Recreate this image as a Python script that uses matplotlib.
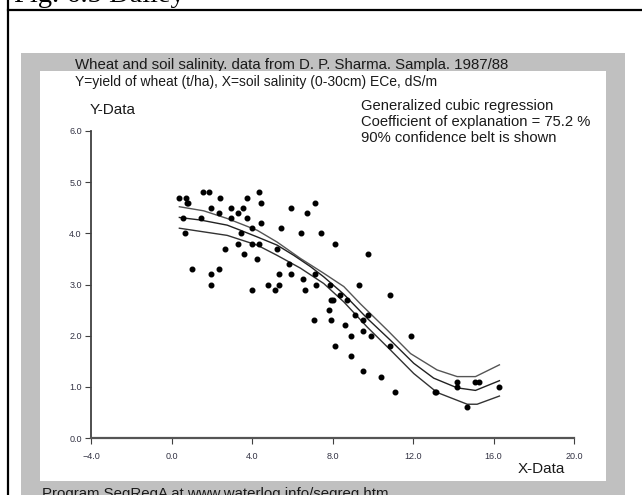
import matplotlib
matplotlib.use('Agg')
import matplotlib.pyplot as plt
from matplotlib.patches import Rectangle
from matplotlib.lines import Line2D

plt.rcParams['font.family'] = ['Liberation Sans', 'DejaVu Sans']

# soil salinity ECe (dS/m) and wheat yield (t/ha)
salinity = [0.34, 0.72, 0.74, 0.82, 0.54, 0.64, 1.02, 1.55, 1.84, 2.41,
            1.93, 1.47, 2.36, 2.65, 1.93, 2.33, 1.93, 2.93, 3.31, 3.52,
            3.71, 2.94, 3.71, 3.31, 3.42, 3.61, 3.96, 3.96, 3.96, 4.22,
            4.32, 4.42, 4.42, 4.32, 4.80, 5.15, 5.33, 5.33, 5.24, 5.42,
            5.90, 5.90, 5.81, 6.44, 6.72, 6.53, 6.62, 7.10, 7.44, 8.10,
            7.10, 7.19, 7.08, 7.84, 7.82, 7.92, 8.00, 7.92, 8.38, 8.73,
            8.63, 9.10, 9.29, 9.73, 9.73, 9.49, 9.48, 8.92, 9.91, 8.10,
            8.92, 9.49, 10.39, 10.87, 10.87, 11.12, 11.87, 13.09, 13.16, 14.18,
            14.18, 15.10, 15.27, 16.28, 14.70]
yields = [4.7, 4.7, 4.6, 4.6, 4.3, 4.0, 3.3, 4.8, 4.8, 4.7,
          4.5, 4.3, 4.4, 3.7, 3.2, 3.3, 3.0, 4.5, 4.4, 4.5,
          4.7, 4.3, 4.3, 3.8, 4.0, 3.6, 4.1, 3.8, 2.9, 3.5,
          4.8, 4.6, 4.2, 3.8, 3.0, 2.9, 3.2, 3.0, 3.7, 4.1,
          4.5, 3.2, 3.4, 4.0, 4.4, 3.1, 2.9, 4.6, 4.0, 3.8,
          3.2, 3.0, 2.3, 3.0, 2.5, 2.7, 2.7, 2.3, 2.8, 2.7,
          2.2, 2.4, 3.0, 3.6, 2.4, 2.3, 2.1, 2.0, 2.0, 1.8,
          1.6, 1.3, 1.2, 2.8, 1.8, 0.9, 2.0, 0.9, 0.9, 1.1,
          1.0, 1.1, 1.1, 1.0, 0.6]

# regression line and confidence belt
fit_x = [0.37, 1.42, 2.75, 3.41, 4.24, 5.23, 6.06, 6.89, 7.55, 8.55,
         9.71, 10.87, 12.03, 13.02, 14.19, 15.10, 16.29]
fit_y = [4.31, 4.26, 4.16, 4.06, 3.93, 3.77, 3.57, 3.35, 3.15, 2.81,
         2.34, 1.91, 1.46, 1.17, 0.98, 0.93, 1.12]
up_x = [0.37, 1.58, 2.75, 4.24, 5.23, 6.39, 7.55, 8.55, 9.38, 10.71,
        11.87, 13.19, 14.19, 15.10, 16.29]
up_y = [4.52, 4.44, 4.29, 4.06, 3.83, 3.51, 3.22, 2.96, 2.62, 2.11,
        1.65, 1.33, 1.20, 1.20, 1.43]
lo_x = [0.37, 2.75, 4.24, 5.23, 6.39, 7.55, 8.55, 9.71, 10.87, 12.03,
        13.19, 14.69, 15.18, 16.29]
lo_y = [4.10, 3.96, 3.77, 3.57, 3.32, 3.02, 2.66, 2.17, 1.72, 1.26,
        0.89, 0.66, 0.66, 0.82]

W, H = 642, 495
fig = plt.figure(figsize=(W / 100, H / 100), dpi=100)


def fx(px):
    return px / W


def fy(py):
    return 1 - py / H


ink = '#1a1a1a'

# page frame and the grey program window behind the chart
fig.add_artist(Line2D([fx(8), fx(8)], [fy(0), fy(H)], color='black', lw=1.6, zorder=3))
fig.add_artist(Line2D([fx(8), 1], [fy(9.5), fy(9.5)], color='black', lw=1.6, zorder=3))
fig.text(fx(14), fy(2), 'Fig. 6.5 Dailey', family='Liberation Serif', fontsize=20.5,
         va='baseline', ha='left', zorder=3)

fig.add_artist(Rectangle((fx(21), fy(H)), fx(625) - fx(21), fy(53) - fy(H),
                         transform=fig.transFigure, facecolor='#c0c0c0',
                         edgecolor='none', zorder=1))
fig.text(fx(75), fy(65), 'Wheat and soil salinity. data from D. P. Sharma. Sampla. 1987/88',
         fontsize=10.8, color=ink, va='center', zorder=1.5)
fig.add_artist(Rectangle((fx(40), fy(481)), fx(606) - fx(40), fy(71.5) - fy(481),
                         transform=fig.transFigure, facecolor='white',
                         edgecolor='none', zorder=2))
fig.text(fx(42), fy(494), 'Program SegRegA at www.waterlog.info/segreg.htm',
         fontsize=10.8, color=ink, va='center', zorder=1.5)

fig.text(fx(75), fy(82), 'Y=yield of wheat (t/ha), X=soil salinity (0-30cm) ECe, dS/m',
         fontsize=10.0, color=ink, va='center', zorder=3)
fig.text(fx(90), fy(110), 'Y-Data', fontsize=11, color=ink, va='center', zorder=3)
fig.text(fx(361), fy(98.5), 'Generalized cubic regression\n'
         'Coefficient of explanation = 75.2 %\n90% confidence belt is shown',
         fontsize=10.6, color=ink, va='top', linespacing=1.22, zorder=3)
fig.text(fx(518), fy(469), 'X-Data', fontsize=11, color=ink, va='center', zorder=3)

ax = fig.add_axes([fx(91.5), fy(438), fx(574) - fx(91.5), fy(131) - fy(438)])
ax.set_zorder(5)
ax.patch.set_alpha(0)

ax.plot(up_x, up_y, color='#555555', lw=1.0)
ax.plot(fit_x, fit_y, color='#222222', lw=1.0)
ax.plot(lo_x, lo_y, color='#333333', lw=1.0)
ax.plot(salinity, yields, 'o', color='black', ms=3.3, clip_on=False)

ax.set_xlim(-4, 20)
ax.set_ylim(0, 6)
ax.set_xticks([-4, 0, 4, 8, 12, 16, 20])
ax.set_yticks([0, 1, 2, 3, 4, 5, 6])
ax.xaxis.set_major_formatter('{x:.1f}')
ax.yaxis.set_major_formatter('{x:.1f}')
for s in ['top', 'right']:
    ax.spines[s].set_visible(False)
ax.spines['left'].set_color('#404040')
ax.spines['left'].set_linewidth(1.3)
ax.spines['bottom'].set_color('#555555')
ax.spines['bottom'].set_linewidth(1.6)
ax.tick_params(length=4, width=0.8, color='#404040', labelsize=6.5,
               labelcolor='#333344', pad=3)
ax.tick_params(axis='x', pad=6)

fig.savefig('out.png', dpi=100)
